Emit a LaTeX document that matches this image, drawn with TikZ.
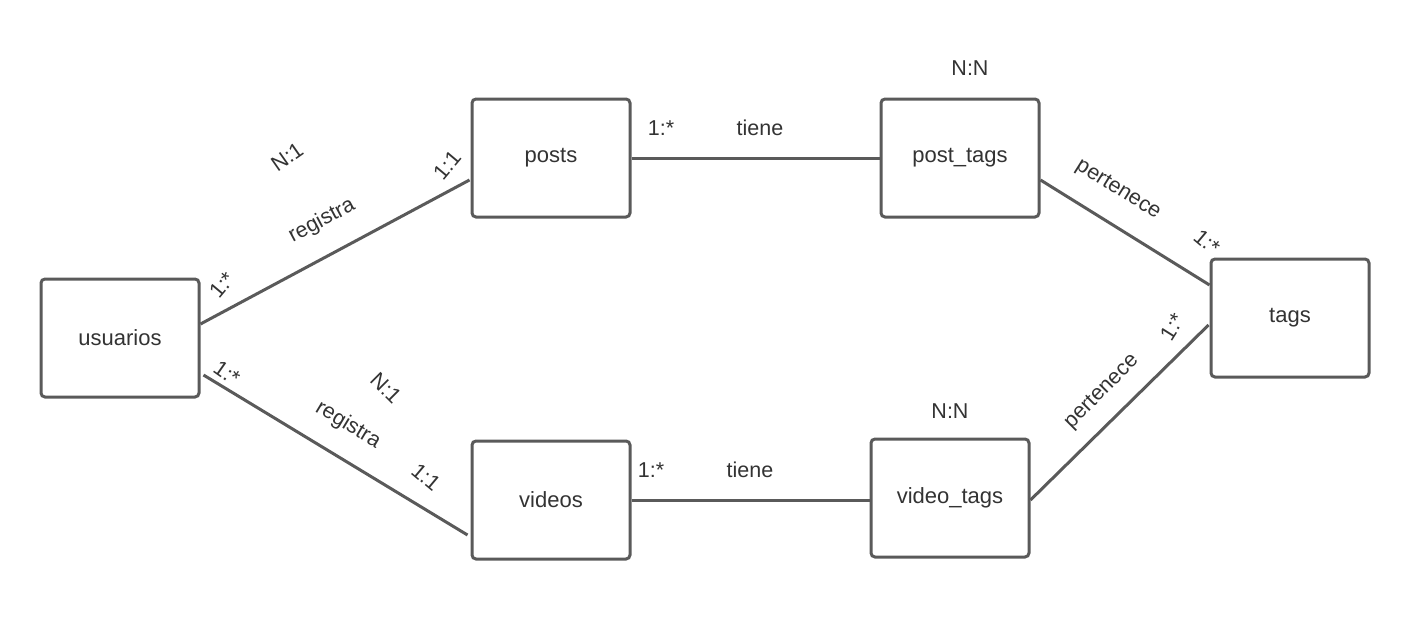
\documentclass[tikz,border=0pt]{standalone}
\usepackage{fontspec}
\setmainfont{Liberation Sans}
\begin{document}
\begin{tikzpicture}[x=1pt,y=-1pt,
  entity/.style={draw=linegray, line width=3pt, rounded corners=4pt, fill=white,
    minimum width=158pt, minimum height=118pt, inner sep=0pt,
    text=txtgray, font=\fontsize{22}{26}\selectfont},
  rel/.style={draw=linegray, line width=3pt},
  lbl/.style={text=txtgray, inner sep=0pt, font=\fontsize{21.5}{25}\selectfont}]
\definecolor{linegray}{HTML}{5A5A5A}
\definecolor{txtgray}{HTML}{333333}
\useasboundingbox (0,0) rectangle (1411,621);

% entities
\node[entity] (usuarios)  at (120,338) {usuarios};
\node[entity] (posts)     at (551,158) {posts};
\node[entity] (posttags)  at (960,158) {post\_tags};
\node[entity] (tags)      at (1290,318) {tags};
\node[entity] (videos)    at (551,500) {videos};
\node[entity] (videotags) at (950,498) {video\_tags};

% relationships
\draw[rel] ([yshift=14pt]usuarios.east) -- ([yshift=-22pt,xshift=-1pt]posts.west);
\draw[rel] ([yshift=-37pt,xshift=3pt]usuarios.east) -- ([yshift=-35pt,xshift=-3pt]videos.west);
\draw[rel] (posts.east) -- (posttags.west);
\draw[rel] (videos.east) -- (videos.east -| videotags.west);
\draw[rel] ([yshift=-22pt]posttags.east) -- ([yshift=33pt]tags.west);
\draw[rel] ([yshift=-2pt]videotags.east) -- ([yshift=-7pt,xshift=-1pt]tags.west);

% usuarios - posts labels
\node[lbl, rotate=35] (l1) at (287,157) {N:1};
\node[lbl, rotate=28] (l2) at (322,221) {registra};
\node[lbl, rotate=50] (l3) at (222,285) {1:*};
\node[lbl, rotate=50] (l4) at (447,165) {1:1};

% usuarios - videos labels
\node[lbl, rotate=-35] (l5) at (227,373) {1:*};
\node[lbl, rotate=-45] (l6) at (386,388) {N:1};
\node[lbl, rotate=-31] (l7) at (348,425) {registra};
\node[lbl, rotate=-40] (l8) at (426,477) {1:1};

% posts - post_tags labels
\node[lbl] (l9)  at (661,128) {1:*};
\node[lbl] (l10) at (760,128) {tiene};
\node[lbl] (l11) at (970,68) {N:N};

% videos - video_tags labels
\node[lbl] (l12) at (651,470) {1:*};
\node[lbl] (l13) at (750,470) {tiene};
\node[lbl] (l14) at (950,411) {N:N};

% post_tags - tags labels
\node[lbl, rotate=-32] (l15) at (1118,190) {pertenece};
\node[lbl, rotate=-40] (l16) at (1207,242) {1:*};

% video_tags - tags labels
\node[lbl, rotate=45] (l17) at (1102,392) {pertenece};
\node[lbl, rotate=58] (l18) at (1172,327) {1:*};
\end{tikzpicture}
\end{document}
